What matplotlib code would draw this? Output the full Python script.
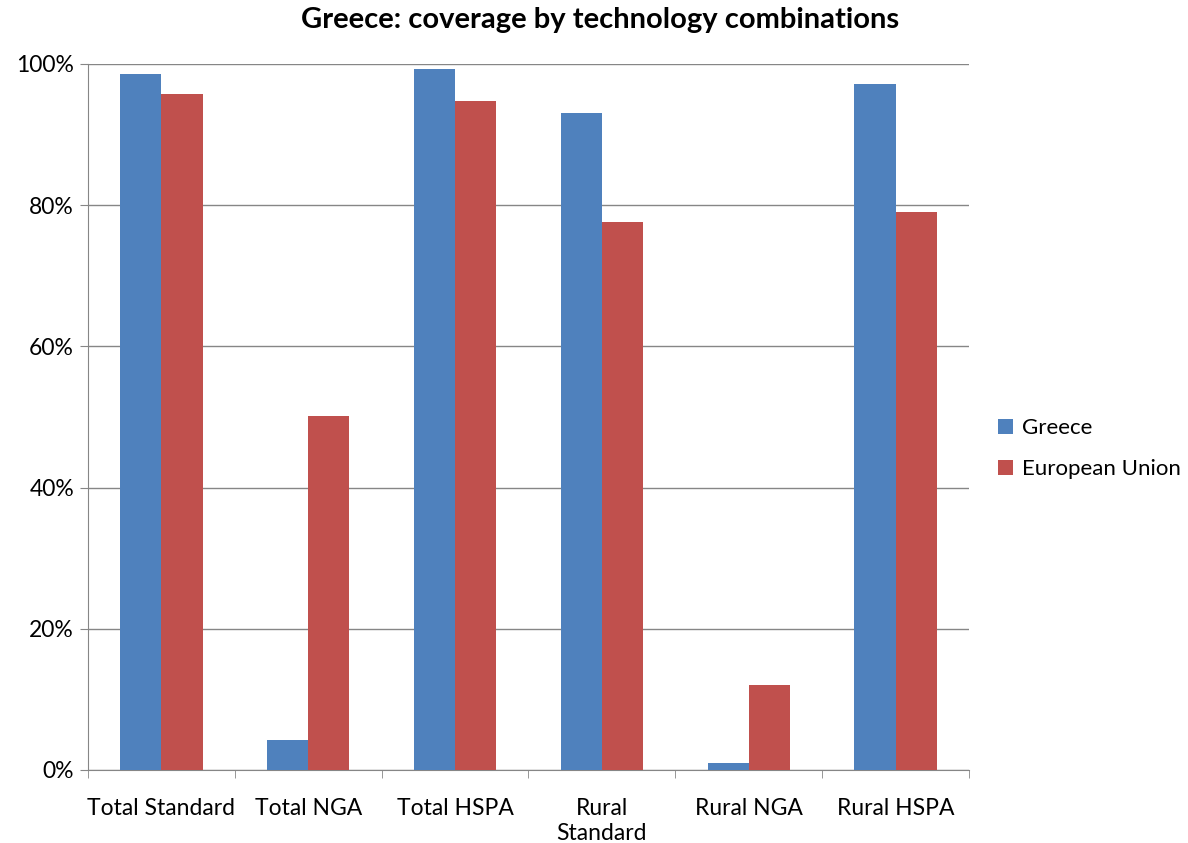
import matplotlib.pyplot as plt
import numpy as np
from matplotlib.ticker import FuncFormatter, FixedLocator

plt.rcParams["font.family"] = ["Lato", "DejaVu Sans"]

categories = ["Total Standard", "Total NGA", "Total HSPA", "Rural\nStandard", "Rural NGA", "Rural HSPA"]
greece = [98.6, 4.2, 99.3, 93.1, 1.0, 97.2]
eu = [95.8, 50.1, 94.8, 77.6, 12.0, 79.0]

BLUE = "#4f81bd"
RED = "#c0504d"
GRID = "#868686"

fig = plt.figure(figsize=(11.88, 8.43), dpi=100)
ax = fig.add_axes([88 / 1188, 1 - 770 / 843, (969 - 88) / 1188, (770 - 64) / 843])

x = np.arange(len(categories))
w = 0.28
ax.bar(x - w / 2, greece, w, color=BLUE, label="Greece", zorder=3)
ax.bar(x + w / 2, eu, w, color=RED, label="European Union", zorder=3)

ax.set_xlim(-0.5, len(categories) - 0.5)
ax.set_ylim(0, 100)
ax.set_yticks(np.arange(0, 101, 20))
ax.yaxis.set_major_formatter(FuncFormatter(lambda v, p: f"{v:.0f}%"))
ax.yaxis.grid(True, color=GRID, linewidth=1, zorder=0)

ax.set_xticks(x)
ax.set_xticklabels(categories, fontsize=16.5, linespacing=1.25)
ax.xaxis.set_minor_locator(FixedLocator(np.arange(-0.5, len(categories), 1)))
ax.tick_params(axis="x", which="major", length=0, pad=20)
ax.tick_params(axis="x", which="minor", length=6, color=GRID)
ax.tick_params(axis="y", length=6, color=GRID, labelsize=16.5, pad=4)

for side in ["top", "right"]:
    ax.spines[side].set_visible(False)
for side in ["left", "bottom"]:
    ax.spines[side].set_color(GRID)

fig.text(0.505, 1 - 20 / 843, "Greece: coverage by technology combinations",
         fontsize=21, fontweight="bold", ha="center", va="center")

ax.legend(loc="center left", bbox_to_anchor=(1.01, 0.455), frameon=False, fontsize=16,
          handlelength=0.7, handleheight=0.7, labelspacing=0.95, handletextpad=0.4)

fig.savefig("out.png", dpi=100)
